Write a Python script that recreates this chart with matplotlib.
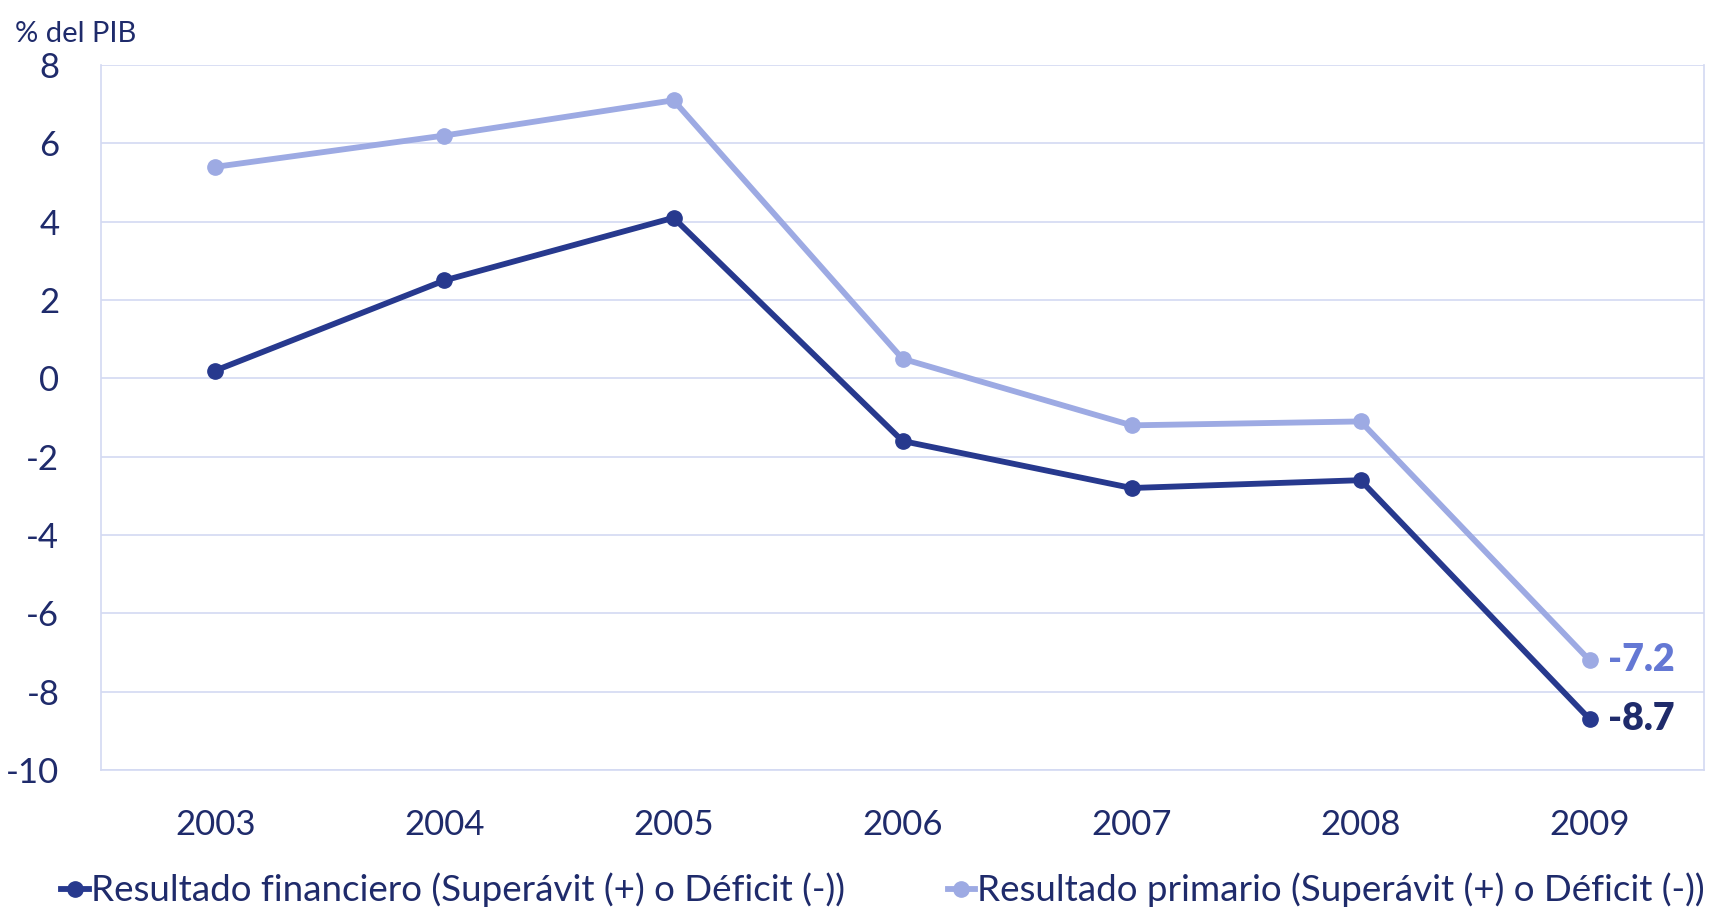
import matplotlib
matplotlib.use("Agg")
import matplotlib.pyplot as plt

years = ["2003", "2004", "2005", "2006", "2007", "2008", "2009"]
financiero = [0.2, 2.5, 4.1, -1.6, -2.8, -2.6, -8.7]
primario = [5.4, 6.2, 7.1, 0.5, -1.2, -1.1, -7.2]
y_ticks = [8, 6, 4, 2, 0, -2, -4, -6, -8, -10]

DARK = "#27398E"
LIGHT = "#9DAAE3"
LIGHT_LABEL = "#6478D4"
TEXT = "#1F2B6B"
GRID = "#D3D9F2"

plt.rcParams["font.family"] = ["Lato", "DejaVu Sans"]

fig = plt.figure(figsize=(17.11, 9.13), dpi=100)
ax = fig.add_axes([0.059, 0.1566, 0.937, 0.7722])

x = list(range(len(years)))
ax.plot(x, financiero, color=DARK, lw=4.2, marker="o", ms=11,
        label="Resultado financiero (Superávit (+) o Déficit (-))", zorder=3)
ax.plot(x, primario, color=LIGHT, lw=4.2, marker="o", ms=11,
        label="Resultado primario (Superávit (+) o Déficit (-))", zorder=3)

# end-of-series value labels
ax.annotate(f"{primario[-1]:.1f}", (x[-1], primario[-1]), xytext=(13, 0),
            textcoords="offset points", va="center", ha="left",
            fontsize=27, fontweight="heavy", color=LIGHT_LABEL)
ax.annotate(f"{financiero[-1]:.1f}", (x[-1], financiero[-1]), xytext=(13, 0),
            textcoords="offset points", va="center", ha="left",
            fontsize=27, fontweight="heavy", color=TEXT)

ax.set_xlim(-0.5, len(years) - 0.5)
ax.set_ylim(-10, 8)
ax.set_yticks(y_ticks)
ax.set_yticklabels([str(t) for t in y_ticks])
ax.set_xticks(x)
ax.set_xticklabels(years)
ax.tick_params(axis="both", length=0, labelsize=25, colors=TEXT)
ax.tick_params(axis="y", pad=30)
ax.tick_params(axis="x", pad=28)
ax.grid(axis="y", color=GRID, lw=1.2)
for s in ax.spines.values():
    s.set_color(GRID)
    s.set_linewidth(1.2)
ax.spines["top"].set_visible(False)

fig.text(0.009, 0.963, "% del PIB", fontsize=21, color=TEXT, ha="left", va="center")

fig.legend(loc="center", bbox_to_anchor=(0.516, 0.025), ncol=2, frameon=False,
           fontsize=26.5, handlelength=0.75, handletextpad=0.05, columnspacing=2.8,
           labelcolor=TEXT)

fig.savefig("out.png", dpi=100)
